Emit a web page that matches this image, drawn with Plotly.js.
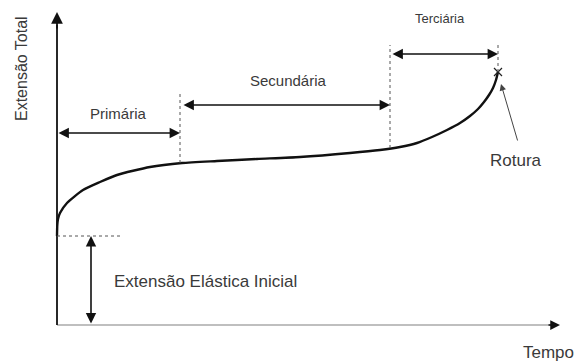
<!DOCTYPE html>
<html>
<head>
<meta charset="utf-8">
<script src="https://cdn.plot.ly/plotly-3.0.1.min.js"></script>
<style>
  html, body { margin: 0; padding: 0; background: #fff; }
  #chart { width: 576px; height: 363px; }
</style>
</head>
<body>
<div id="chart"></div>
<script>
// creep curve: time vs total extension (arbitrary units, origin at axis corner)
var tempo = [0, 0.3, 1, 3, 10, 26, 43, 60, 93, 125, 160, 200, 243, 293, 323, 343, 360, 375, 390, 403, 413, 421, 427, 432, 436, 439, 441];
var extensao = [89, 100, 106, 112, 122, 135, 143, 150, 158, 162, 164, 166, 168, 172, 175, 178, 182, 188, 195, 202, 209, 216, 223, 230, 237, 245, 253];

// phase boundaries and values
var fimPrimaria = 123;
var fimSecundaria = 333;
var rotura = 441;
var extElastica = 89;
var rotuloFases = ["Primária", "Secundária", "Terciária"];

var txt = "#3a3a3a";
var font = "Liberation Sans, Arial, sans-serif";

var curve = {
  x: tempo,
  y: extensao,
  mode: "lines",
  line: { color: "#111", width: 2.4, shape: "spline", smoothing: 0.6 },
  hoverinfo: "none"
};

var ruptura = {
  x: [tempo[tempo.length - 1]],
  y: [extensao[extensao.length - 1]],
  mode: "markers",
  marker: { symbol: "x-thin-open", size: 8, color: "#222", line: { color: "#222", width: 1.2 } },
  hoverinfo: "none"
};

function dash(x0, y0, x1, y1) {
  return {
    type: "line", xref: "x", yref: "y",
    x0: x0, y0: y0, x1: x1, y1: y1,
    line: { color: "#555", width: 1, dash: "3px,3px" }
  };
}

function seta(x0, y0, x1, y1, dupla, cor, largura) {
  return {
    x: x1, y: y1, ax: x0, ay: y0,
    xref: "x", yref: "y", axref: "x", ayref: "y",
    text: "", showarrow: true,
    arrowhead: 2, arrowsize: 1.3, arrowwidth: largura || 1.6,
    arrowcolor: cor || "#111",
    arrowside: dupla ? "end+start" : "end",
    startarrowhead: 2, startarrowsize: 1.3,
    standoff: 0, startstandoff: 0
  };
}

function rotulo(x, y, texto, size, angle) {
  return {
    x: x, y: y, xref: "x", yref: "y",
    text: texto, showarrow: false,
    textangle: angle || 0,
    font: { family: font, size: size, color: txt }
  };
}

var shapes = [
  // x axis (grey line)
  { type: "line", xref: "x", yref: "y", x0: 0, y0: 0, x1: 495, y1: 0,
    line: { color: "#aaa", width: 1.5 } },
  // y axis
  { type: "line", xref: "x", yref: "y", x0: 0, y0: 0, x1: 0, y1: 300,
    line: { color: "#111", width: 1.8 } },
  dash(fimPrimaria, 162, fimPrimaria, 232),
  dash(fimSecundaria, 177, fimSecundaria, 280),
  dash(rotura, extensao[extensao.length - 1], rotura, 280),
  dash(0, extElastica, 63, extElastica)
];

var annotations = [
  seta(0, 295, 0, 313, false, "#111", 1.8),
  seta(490, 0, 503, 0, false, "#111", 1.5),
  seta(0, 192, fimPrimaria, 192, true),
  seta(fimPrimaria + 2, 220, fimSecundaria, 220, true),
  seta(fimSecundaria + 1, 271, rotura, 271, true),
  seta(34, 0, 34, extElastica, true),
  seta(461, 183, 444, 241, false, "#444", 1),
  rotulo(61, 212, rotuloFases[0], 15),
  rotulo(231, 245, rotuloFases[1], 15),
  rotulo(383, 307, rotuloFases[2], 13),
  rotulo(148, 44, "Extensão Elástica Inicial", 17),
  rotulo(459, 165, "Rotura", 17),
  rotulo(491, -27, "Tempo", 17),
  rotulo(-36, 256, "Extensão Total", 16, -90)
];

var layout = {
  width: 576,
  height: 363,
  margin: { l: 0, r: 0, t: 0, b: 0, pad: 0 },
  paper_bgcolor: "#fff",
  plot_bgcolor: "#fff",
  showlegend: false,
  xaxis: { range: [-57, 519], visible: false, fixedrange: true },
  yaxis: { range: [-38, 325], visible: false, fixedrange: true },
  shapes: shapes,
  annotations: annotations
};

Plotly.newPlot("chart", [curve, ruptura], layout, { displayModeBar: false, staticPlot: true });
</script>
</body>
</html>
